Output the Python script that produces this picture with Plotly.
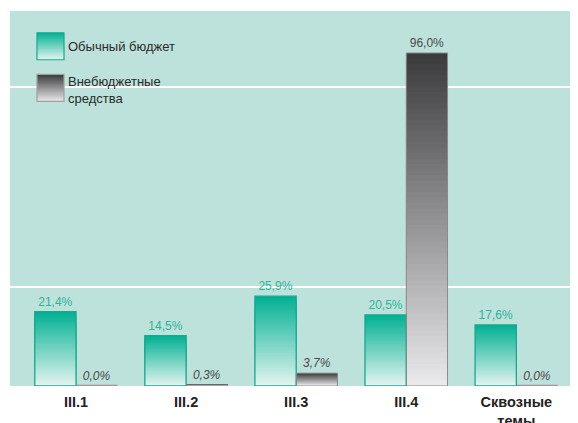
import plotly.graph_objects as go

categories = ["III.1", "III.2", "III.3", "III.4", "Сквозные<br>темы"]
regular_budget = [21.4, 14.5, 25.9, 20.5, 17.6]
extra_budget = [0.0, 0.3, 3.7, 96.0, 0.0]
regular_labels = ["21,4%", "14,5%", "25,9%", "20,5%", "17,6%"]
extra_labels = ["<i>0,0%</i>", "<i>0,3%</i>", "<i>3,7%</i>", "96,0%", "<i>0,0%</i>"]
series_names = ["Обычный бюджет", "Внебюджетные<br>средства"]

N = 60
TEAL_TOP = (0, 176, 147)
TEAL_BOT = (228, 244, 240)
GRAY_TOP = (58, 58, 60)
GRAY_BOT = (234, 234, 236)


def mix(c1, c2, t):
    return "rgb(%d,%d,%d)" % tuple(round(a + (b - a) * t) for a, b in zip(c1, c2))


fig = go.Figure()


def add_gradient(vals, grp, top, bot):
    # nested bars from base 0, tallest (top colour) drawn first, so no seams
    for k in range(N - 1, -1, -1):
        t = (k + 0.5) / N
        fig.add_trace(go.Bar(
            x=categories,
            y=[v * (k + 1) / N for v in vals],
            offsetgroup=grp,
            marker=dict(color=mix(bot, top, t), line=dict(width=0)),
            hoverinfo="skip", showlegend=False,
        ))


add_gradient(regular_budget, "a", TEAL_TOP, TEAL_BOT)

# light baseline strip under the extra-budget bars (decoration)
fig.add_trace(go.Bar(x=categories, y=[0.6] * len(categories), offsetgroup="b",
                     marker=dict(color="#c6c6c8", line=dict(width=0)),
                     hoverinfo="skip", showlegend=False))

add_gradient(extra_budget, "b", GRAY_TOP, GRAY_BOT)

# outlines + value labels
fig.add_trace(go.Bar(x=categories, y=regular_budget, offsetgroup="a",
                     marker=dict(color="rgba(0,0,0,0)", line=dict(color="#16a98d", width=1.3)),
                     text=regular_labels, textposition="outside", cliponaxis=False,
                     textfont=dict(color="#2fb39a", size=12,
                                   family="Liberation Sans Narrow, Arial Narrow, Arial, sans-serif"),
                     hoverinfo="skip", showlegend=False))
fig.add_trace(go.Bar(x=categories, y=extra_budget, offsetgroup="b",
                     marker=dict(color="rgba(0,0,0,0)", line=dict(color="#8a8a8c", width=1)),
                     text=extra_labels, textposition="outside", cliponaxis=False,
                     textfont=dict(color="#4a4a4c", size=12,
                                   family="Liberation Sans Narrow, Arial Narrow, Arial, sans-serif"),
                     hoverinfo="skip", showlegend=False))

# manual legend
shapes = []
annotations = []
legend_boxes = [((0.0475, 0.0951), (0.870, 0.942), TEAL_TOP, TEAL_BOT, "#16a98d"),
                ((0.0475, 0.0951), (0.759, 0.831), GRAY_TOP, GRAY_BOT, "#a0a0a2")]
for (x0, x1), (y0, y1), top, bot, edge in legend_boxes:
    M = 20
    for k in range(M - 1, -1, -1):
        t = (k + 0.5) / M
        shapes.append(dict(type="rect", xref="paper", yref="paper",
                           x0=x0, x1=x1, y0=y0, y1=y0 + (y1 - y0) * (k + 1) / M,
                           fillcolor=mix(bot, top, t), line=dict(width=0), layer="above"))
    shapes.append(dict(type="rect", xref="paper", yref="paper", x0=x0, x1=x1, y0=y0, y1=y1,
                       fillcolor="rgba(0,0,0,0)", line=dict(color=edge, width=1.2), layer="above"))

annotations.append(dict(xref="paper", yref="paper", x=0.098, y=0.906, text=series_names[0],
                        showarrow=False, xanchor="left", yanchor="middle", align="left",
                        font=dict(size=13, color="#2a2a2a", family="Liberation Sans, Arial, sans-serif")))
annotations.append(dict(xref="paper", yref="paper", x=0.098, y=0.788, text=series_names[1],
                        showarrow=False, xanchor="left", yanchor="middle", align="left",
                        font=dict(size=13, color="#2a2a2a", family="Liberation Sans, Arial, sans-serif")))

fig.update_layout(
    width=578, height=423,
    margin=dict(l=2, r=8, t=3, b=42),
    paper_bgcolor="white",
    plot_bgcolor="#bde2db",
    barmode="group", bargap=0.25, bargroupgap=0,
    showlegend=False,
    shapes=shapes, annotations=annotations,
    xaxis=dict(type="category", range=[-0.6, 4.56], showgrid=False, zeroline=False,
               showline=False, ticks="outside", ticklen=3, tickcolor="rgba(0,0,0,0)",
               fixedrange=True,
               tickfont=dict(size=14.5, color="#222222", family="Liberation Sans, Arial, sans-serif",
                             weight="bold")),
    yaxis=dict(range=[0, 108.1], tickvals=[28.6, 86.3], showticklabels=False,
               gridcolor="white", gridwidth=2, zeroline=False, showline=False, fixedrange=True),
    font=dict(family="Liberation Sans, Arial, sans-serif"),
)

fig.write_html("out.html")
